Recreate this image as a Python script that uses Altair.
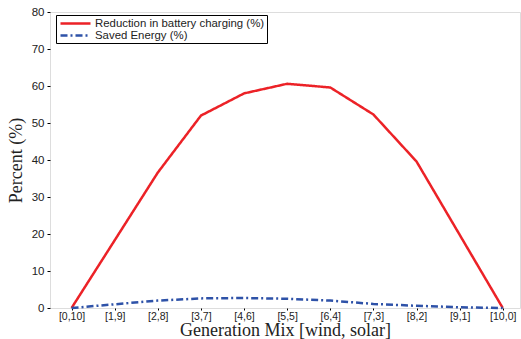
import json
import altair as alt
import pandas as pd

mix_labels = ["[0,10]", "[1,9]", "[2,8]", "[3,7]", "[4,6]", "[5,5]",
              "[6,4]", "[7,3]", "[8,2]", "[9,1]", "[10,0]"]
reduction = [0, 18.3, 36.6, 52.0, 58.0, 60.6, 59.6, 52.3, 39.6, 19.8, 0]
saved = [0, 1.0, 2.0, 2.6, 2.7, 2.5, 2.0, 1.1, 0.6, 0.2, 0]
series_names = ["Reduction in battery charging (%)", "Saved Energy (%)"]

rows = []
for i, lab in enumerate(mix_labels):
    rows.append({"idx": i, "mix": lab, "value": reduction[i], "series": series_names[0]})
    rows.append({"idx": i, "mix": lab, "value": saved[i], "series": series_names[1]})
df = pd.DataFrame(rows)

label_expr = json.dumps(mix_labels) + "[datum.value]"

chart = alt.Chart(df).mark_line(strokeWidth=2.5).encode(
    x=alt.X("idx:Q",
            scale=alt.Scale(domain=[-0.5, 10.4], nice=False, zero=False),
            axis=alt.Axis(values=list(range(len(mix_labels))), labelExpr=label_expr,
                          title="Generation Mix [wind, solar]", grid=False,
                          labelFont="Liberation Sans", labelFontSize=10.5, labelColor="#222",
                          titleFont="Liberation Serif", titleFontSize=18, titleFontWeight="normal",
                          titleColor="#222", titleY=27, titleBaseline="alphabetic",
                          labelPadding=1, tickSize=2, domain=False, tickColor="black")),
    y=alt.Y("value:Q",
            scale=alt.Scale(domain=[0, 80], nice=False),
            axis=alt.Axis(values=list(range(0, 81, 10)), title="Percent (%)", grid=False,
                          labelFont="Liberation Sans", labelFontSize=11.5, labelColor="#222",
                          titleFont="Liberation Serif", titleFontSize=18, titleFontWeight="normal",
                          titleColor="#222", titlePadding=6, labelPadding=3,
                          tickSize=3, domain=False, tickColor="black")),
    color=alt.Color("series:N",
                    scale=alt.Scale(domain=series_names, range=["#ec2227", "#2e52a8"]),
                    legend=alt.Legend(title=None, orient="none", legendX=6, legendY=3,
                                      strokeColor="black", padding=2, fillColor="white",
                                      symbolType="M-3,0H3", symbolSize=100, symbolOffset=11,
                                      symbolStrokeWidth=2.5, labelLimit=400,
                                      labelFont="Liberation Sans", labelFontSize=11.4,
                                      labelColor="#222", rowPadding=-3, labelOffset=13)),
    strokeDash=alt.StrokeDash("series:N",
                              scale=alt.Scale(domain=series_names, range=[[1, 0], [7, 3, 2, 3]]),
                              legend=None),
).properties(
    width=470, height=296,
    autosize=alt.AutoSizeParams(type="none"),
    padding={"left": 50, "top": 12, "right": 1, "bottom": 31},
).configure_view(stroke="black", strokeWidth=1.2).configure(background="white")

chart.save("out.html", embed_options={"renderer": "svg", "actions": False})
